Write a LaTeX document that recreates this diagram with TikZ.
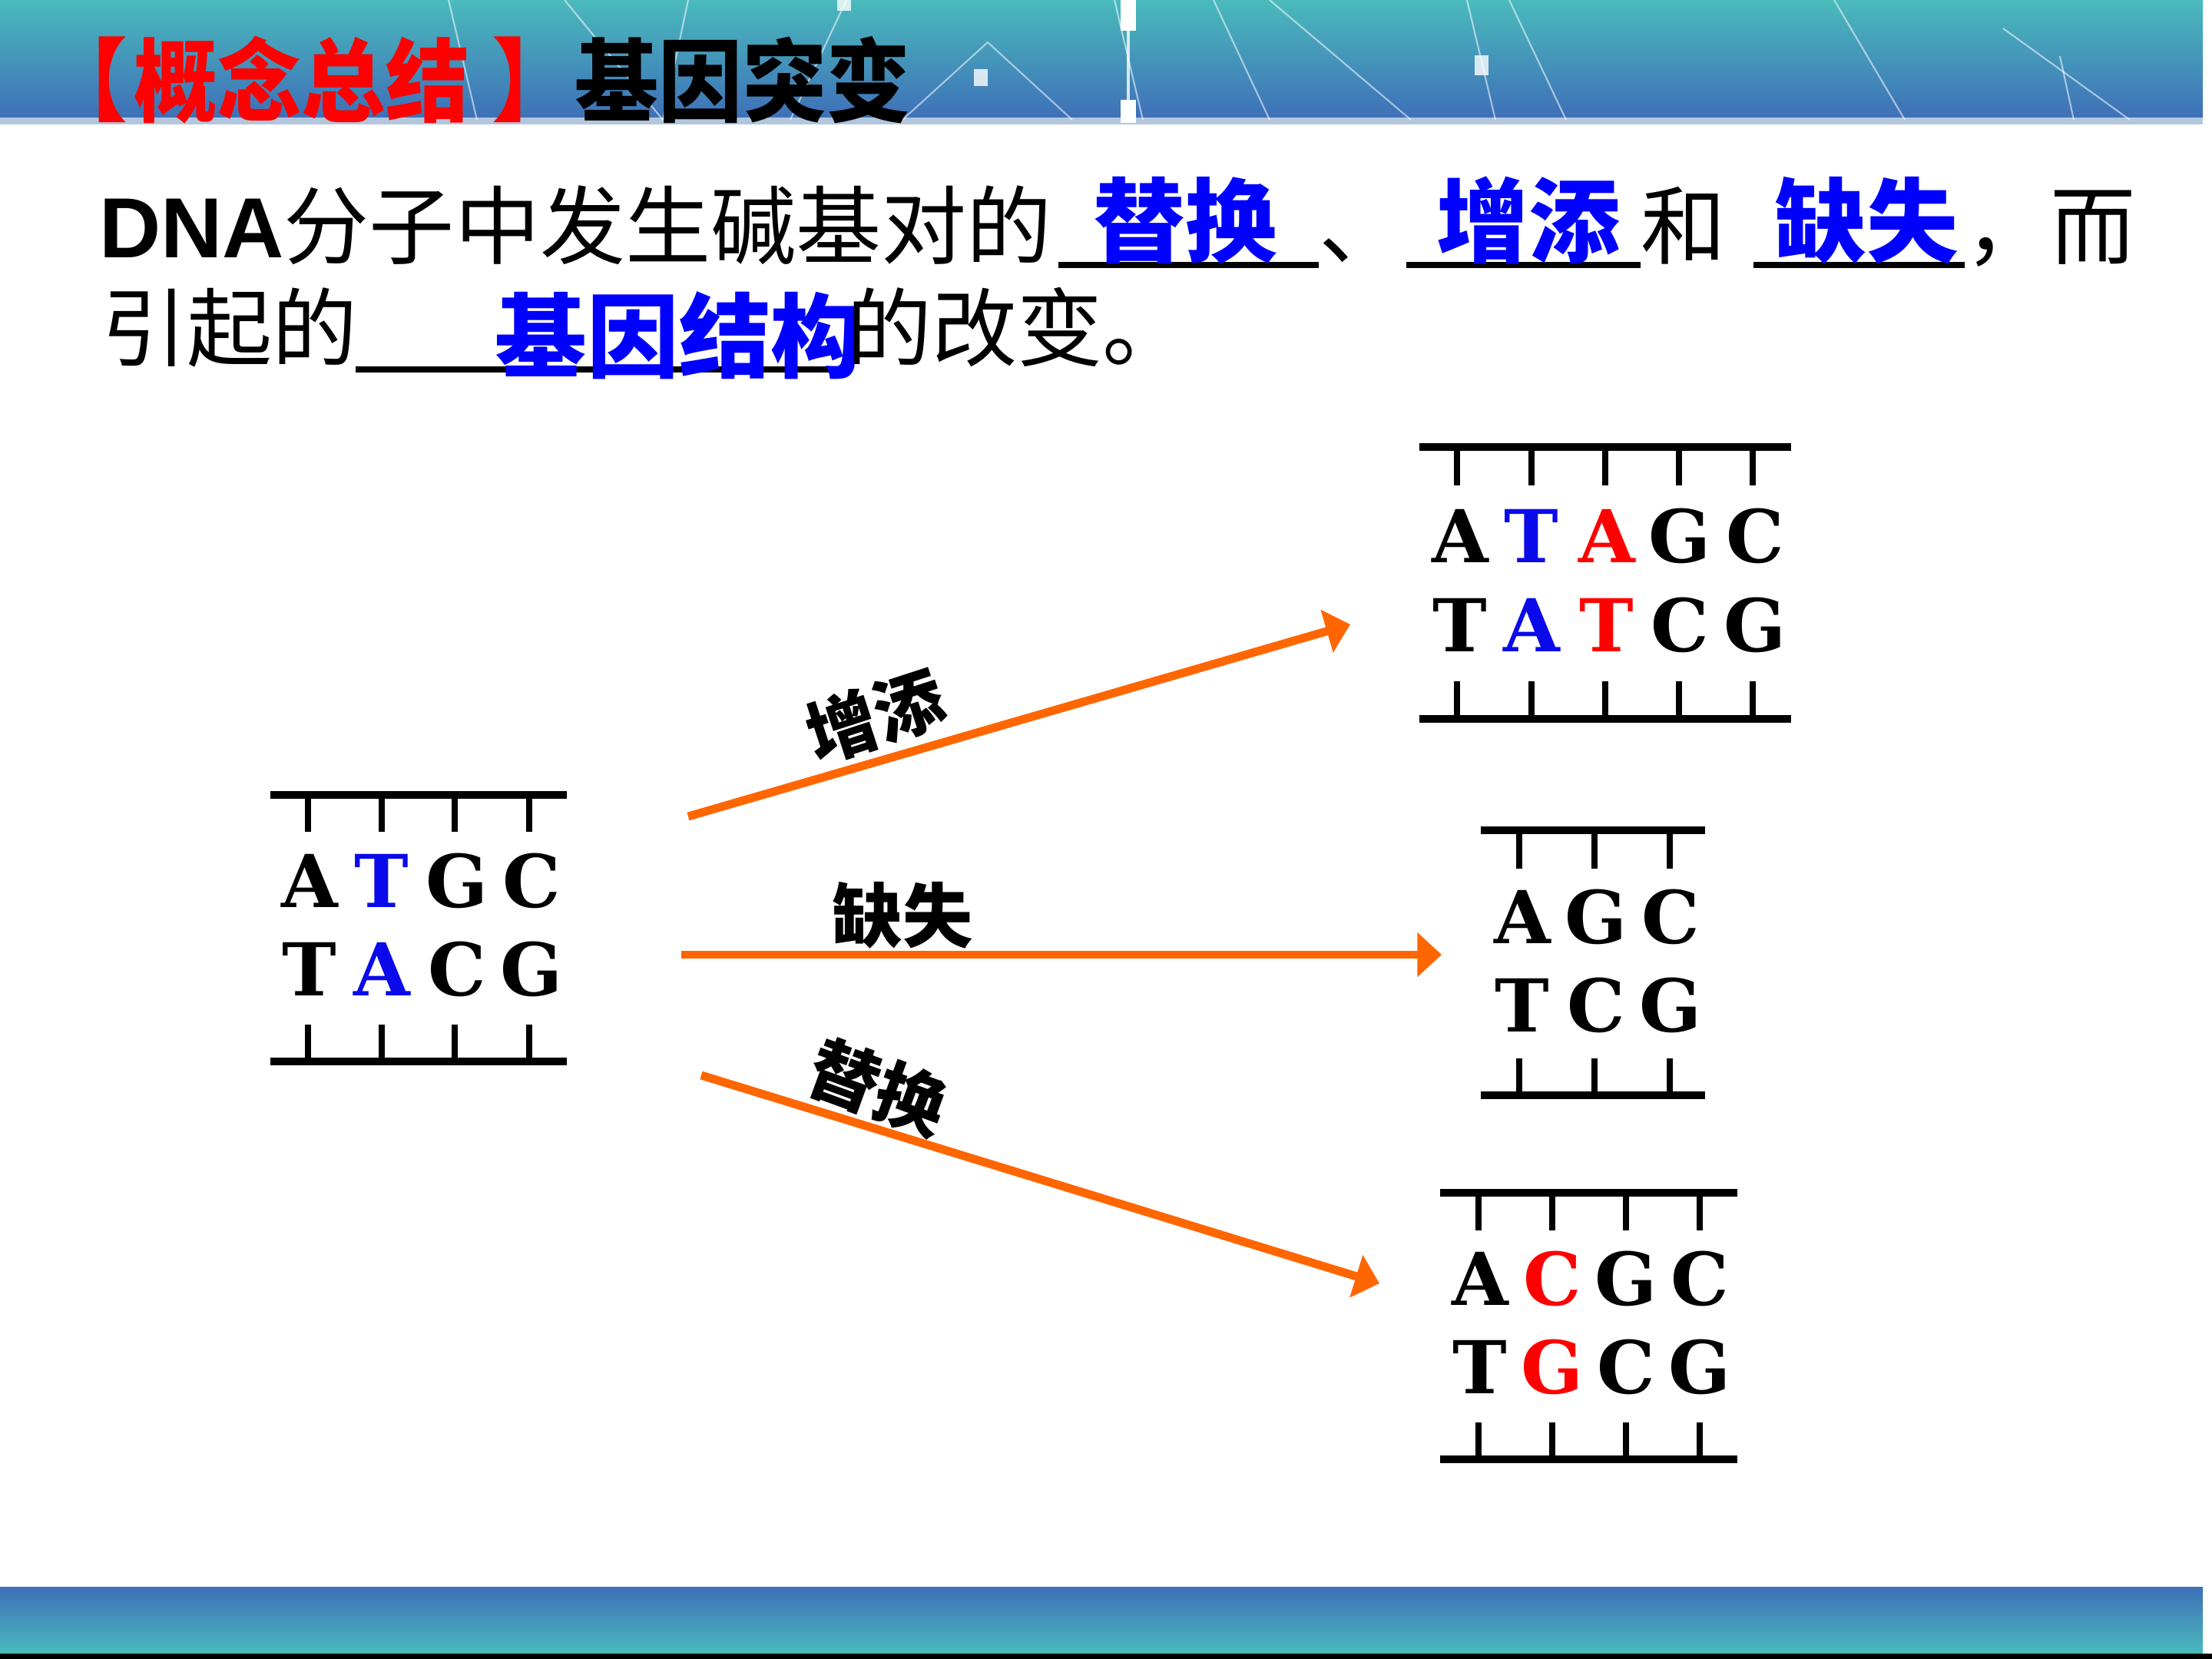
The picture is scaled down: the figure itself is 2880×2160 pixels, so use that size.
\documentclass[tikz,border=0pt]{standalone}
\usepackage{fontspec}
\setmainfont{Noto Sans CJK SC}
\newfontfamily\arialf{Liberation Sans}
\newfontfamily\seriff{DejaVu Serif}
\usetikzlibrary{arrows.meta}
\definecolor{hdrtop}{RGB}{74,186,188}
\definecolor{hdrbot}{RGB}{62,112,184}
\definecolor{stripc}{RGB}{178,198,222}
\definecolor{arrowor}{RGB}{255,102,0}
\definecolor{dnablue}{RGB}{10,10,235}
\definecolor{dnared}{RGB}{255,0,0}
\definecolor{fillblue}{RGB}{0,0,255}
\tikzset{
  plain/.style={inner sep=0pt, outer sep=0pt},
  maintext/.style={plain, anchor=base west, font=\fontsize{31.6}{36}\selectfont},
  bluetext/.style={plain, text=fillblue, font=\bfseries\fontsize{34}{38}\selectfont},
  titletext/.style={plain, yscale=1.08, font=\bfseries\fontsize{31}{36}\selectfont},
  arrowlabel/.style={plain, font=\bfseries\fontsize{26}{30}\selectfont},
  baseletter/.style={plain, font=\seriff\bfseries\fontsize{27}{30}\selectfont},
  uline/.style={line width=2pt},
  strand/.style={line width=2.85pt},
  bond/.style={line width=2pt},
  mutarrow/.style={draw=arrowor, line width=3.1pt, -{Triangle[length=9pt,width=16pt]}},
  decor/.style={white, opacity=0.55, line width=0.6pt},
}
\begin{document}
\begin{tikzpicture}[x=0.01cm,y=-0.01cm]
\useasboundingbox (0,0) rectangle (2880,2160);
\fill[white] (0,0) rectangle (2880,2160);
% header band
\shade[top color=hdrtop, bottom color=hdrbot] (0,0) rectangle (2868,153);
\fill[stripc] (0,153) rectangle (2868,162);
% decorative lines in header
\draw[decor] (584,0) -- (621,156);
\draw[decor] (735,0) -- (863,156);
\draw[decor] (896,0) -- (863,156);
\draw[decor] (1102,0) -- (1029,156);
\draw[decor] (1175,156) -- (1286,55) -- (1396,156);
\draw[decor] (1451,0) -- (1488,156);
\draw[decor] (1580,0) -- (1653,156);
\draw[decor] (1653,0) -- (1837,156);
\draw[decor] (1910,0) -- (1947,156);
\draw[decor] (1965,0) -- (2039,156);
\draw[decor] (2388,0) -- (2480,156);
\draw[decor] (2608,37) -- (2773,156);
\draw[decor] (2682,73) -- (2700,156);
\draw[white, opacity=0.8, line width=1.2pt] (1469,0) -- (1469,160);
\fill[white] (1459,0) rectangle (1479,40);
\fill[white] (1459,130) rectangle (1479,160);
\fill[white, opacity=0.8] (1090,0) rectangle (1108,14);
\fill[white, opacity=0.8] (1268,90) rectangle (1286,112);
\fill[white, opacity=0.8] (1920,72) rectangle (1938,98);
% bottom band
\shade[top color=hdrbot, bottom color=hdrtop] (0,2066) rectangle (2868,2153);
\fill[black] (0,2153) rectangle (2880,2160);
% title
\node[titletext, text=red] (tb1) at (112,104) {【};
\node[titletext, text=red] (tt1) at (393,104) {概念总结};
\node[titletext, text=red] (tb2) at (695,104) {】};
\node[titletext] (tt2) at (967,104) {基因突变};
% sentence line 1
\node[maintext] (s1) at (129,335) {{\arialf\bfseries DNA}分子中发生碱基对的};
\draw[uline] (1378,345) -- (1717,345);
\node[bluetext] (b1) at (1543,287) {替换};
\node[maintext] (s2) at (1717,335) {、};
\draw[uline] (1831,345) -- (2136,345);
\node[bluetext] (b2) at (1990,287) {增添};
\node[maintext] (s3) at (2136,335) {和};
\draw[uline] (2283,345) -- (2558,345);
\node[bluetext] (b3) at (2430,287) {缺失};
\node[maintext] (s4) at (2558,335) {，而};
% sentence line 2
\node[maintext] (s5) at (132,468) {引起的};
\draw[uline] (463,481) -- (1102,481);
\node[bluetext] (b4) at (884,437) {基因结构};
\node[maintext] (s6) at (1102,468) {的改变。};
% left DNA block
\draw[strand] (352,1035) -- (738,1035);
\draw[strand] (352,1382) -- (738,1382);
\foreach \x in {401,497,592,689} {
  \draw[bond] (\x,1035) -- (\x,1083);
  \draw[bond] (\x,1334) -- (\x,1382);
}
\foreach \x/\l/\c [count=\i] in {403/A/black,497/T/dnablue,595/G/black,692/C/black}
  \node[baseletter, text=\c] (la\i) at (\x,1147) {\l};
\foreach \x/\l/\c [count=\i] in {403/T/black,497/A/dnablue,595/C/black,692/G/black}
  \node[baseletter, text=\c] (lb\i) at (\x,1262) {\l};
% top right block (insertion)
\draw[strand] (1848,582) -- (2332,582);
\draw[strand] (1848,936) -- (2332,936);
\foreach \x in {1897,1994,2090,2186,2282} {
  \draw[bond] (\x,582) -- (\x,632);
  \draw[bond] (\x,887) -- (\x,936);
}
\foreach \x/\l/\c [count=\i] in {1901/A/black,1994/T/dnablue,2092/A/dnared,2187/G/black,2285/C/black}
  \node[baseletter, text=\c] (ia\i) at (\x,698) {\l};
\foreach \x/\l/\c [count=\i] in {1901/T/black,1994/A/dnablue,2092/T/dnared,2187/C/black,2285/G/black}
  \node[baseletter, text=\c] (ib\i) at (\x,814) {\l};
% middle block (deletion)
\draw[strand] (1928,1081) -- (2220,1081);
\draw[strand] (1928,1426) -- (2220,1426);
\foreach \x in {1978,2076,2174} {
  \draw[bond] (\x,1081) -- (\x,1131);
  \draw[bond] (\x,1378) -- (\x,1426);
}
\foreach \x/\l [count=\i] in {1982/A,2078/G,2175/C}
  \node[baseletter] (da\i) at (\x,1194) {\l};
\foreach \x/\l [count=\i] in {1982/T,2078/C,2175/G}
  \node[baseletter] (db\i) at (\x,1309) {\l};
% bottom block (substitution)
\draw[strand] (1875,1553) -- (2262,1553);
\draw[strand] (1875,1900) -- (2262,1900);
\foreach \x in {1925,2021,2117,2213} {
  \draw[bond] (\x,1553) -- (\x,1602);
  \draw[bond] (\x,1852) -- (\x,1900);
}
\foreach \x/\l/\c [count=\i] in {1927/A/black,2021/C/dnared,2117/G/black,2213/C/black}
  \node[baseletter, text=\c] (sa\i) at (\x,1665) {\l};
\foreach \x/\l/\c [count=\i] in {1927/T/black,2021/G/dnared,2117/C/black,2213/G/black}
  \node[baseletter, text=\c] (sb\i) at (\x,1780) {\l};
% arrows
\coordinate (a1s) at (896,1063);
\coordinate (a1e) at (1758,813);
\coordinate (a2s) at (887,1243);
\coordinate (a2e) at (1877,1243);
\coordinate (a3s) at (913,1400);
\coordinate (a3e) at (1796,1671);
\draw[mutarrow] (a1s) -- (a1e);
\draw[mutarrow] (a2s) -- (a2e);
\draw[mutarrow] (a3s) -- (a3e);
\node[arrowlabel, rotate=18] (lab1) at (1140,932) {增添};
\node[arrowlabel] (lab2) at (1175,1192) {缺失};
\node[arrowlabel, rotate=-20] (lab3) at (1143,1416) {替换};
\end{tikzpicture}
\end{document}
